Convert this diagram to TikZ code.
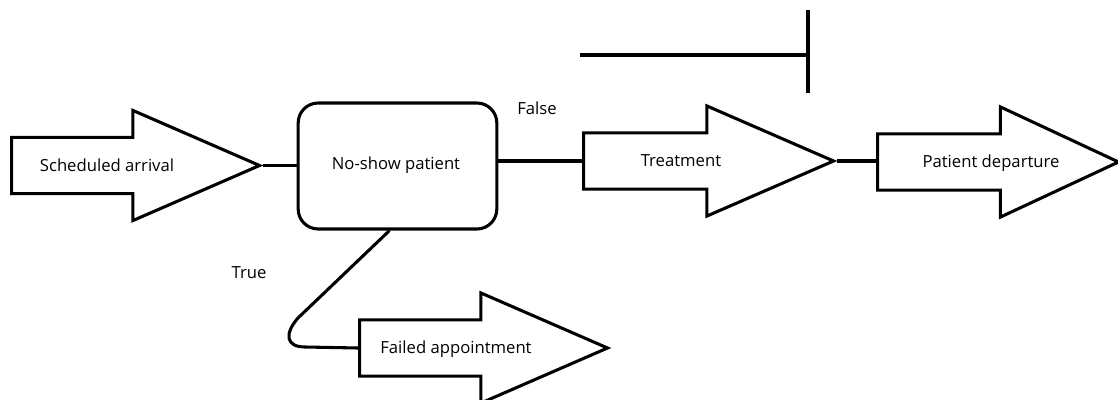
\documentclass[tikz,border=0pt]{standalone}
\usepackage{fontspec}
\setmainfont{Open Sans}
\usetikzlibrary{shapes.arrows}

\begin{document}
\begin{tikzpicture}[x=0.75pt, y=-0.75pt, line width=2.3pt,
    every node/.style={font=\fontsize{12.5}{15}\selectfont},
    flow/.style={draw, single arrow, single arrow head extend=20.25pt,
      single arrow tip angle=47, inner xsep=0pt, inner ysep=19.9pt, anchor=tail},
    box/.style={draw, rectangle, rounded corners=15pt, minimum width=149pt, minimum height=94.5pt},
    txt/.style={anchor=base, inner sep=0pt}]
      \useasboundingbox (0, 0) rectangle (1118, 400);

      % shapes
      \node[flow, minimum height=186pt] (arrival) at (10, 165.5){};
      \node[box] (noshow) at (397.5, 166){};
      \node[flow, minimum height=187.5pt] (treat) at (582, 161){};
      \node[flow, minimum height=180.75pt, single arrow tip angle=50] (depart) at (876, 162){};
      \node[flow, minimum height=186pt] (failed) at (358, 348){};

      % texts
      \node[txt] (t1) at (107, 171){Scheduled arrival};
      \node[txt] (t2) at (396, 169){No-show patient};
      \node[txt] (t3) at (681, 166){Treatment};
      \node[txt] (t4) at (991, 167){Patient departure};
      \node[txt] (t5) at (456, 353){Failed appointment};
      \node[txt] (false) at (537, 114){False};
      \node[txt] (true) at (249, 278){True};

      % bar at the top
      \coordinate (b1) at (580, 55);
      \coordinate (b2) at (808, 55);
      \coordinate (b3) at (808, 10);
      \coordinate (b4) at (808, 93);
      \draw (b1) -- (b2);
      \draw (b3) -- (b4);

      % connectors
      \draw (arrival.tip) -- (arrival.tip -| noshow.west);
      \draw (treat.tail) -- (treat.tail -| noshow.east);
      \draw (treat.tip) -- (treat.tip -| depart.tail);
      \draw ([xshift=-6pt]noshow.south) -- (298, 318)
        .. controls (284, 334) and (286, 347) .. (305, 347) -- (failed.tail);
    \end{tikzpicture}
\end{document}
